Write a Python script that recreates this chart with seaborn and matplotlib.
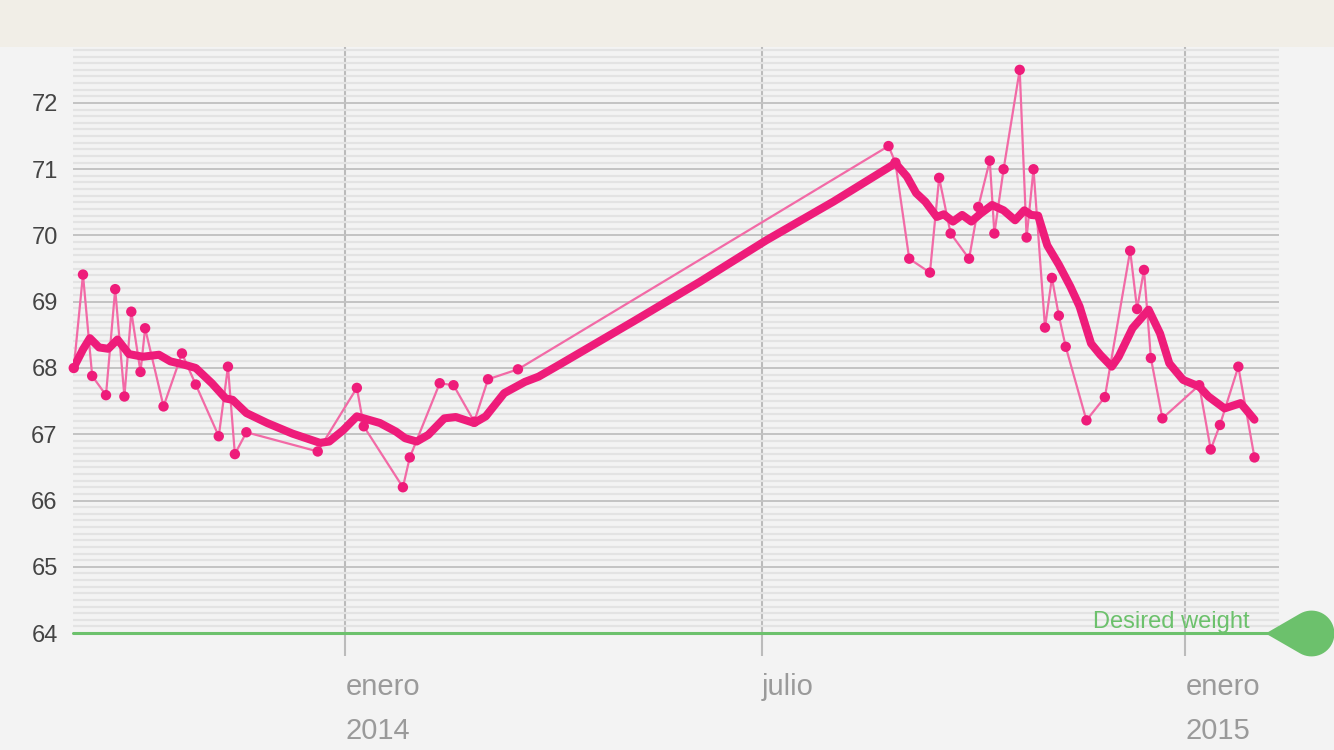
import numpy as np
import pandas as pd
import matplotlib
matplotlib.use("Agg")
import matplotlib.pyplot as plt
from matplotlib.path import Path
from matplotlib.patches import Rectangle
from matplotlib.ticker import FixedLocator, FixedFormatter
import matplotlib.transforms as mtransforms
import seaborn as sns

# weigh-ins
weigh_dates = [
    "2013-09-05", "2013-09-09", "2013-09-13", "2013-09-19", "2013-09-23", "2013-09-27",
    "2013-09-30", "2013-10-04", "2013-10-06", "2013-10-14", "2013-10-22", "2013-10-28",
    "2013-11-07", "2013-11-11", "2013-11-14", "2013-11-19", "2013-12-20", "2014-01-06",
    "2014-01-09", "2014-01-26", "2014-01-29", "2014-02-11", "2014-02-17", "2014-02-26",
    "2014-03-04", "2014-03-17", "2014-08-25", "2014-08-28", "2014-09-03", "2014-09-12",
    "2014-09-16", "2014-09-21", "2014-09-29", "2014-10-03", "2014-10-08", "2014-10-10",
    "2014-10-14", "2014-10-21", "2014-10-24", "2014-10-27", "2014-11-01", "2014-11-04",
    "2014-11-07", "2014-11-10", "2014-11-19", "2014-11-27", "2014-12-08", "2014-12-11",
    "2014-12-14", "2014-12-17", "2014-12-22", "2015-01-07", "2015-01-12", "2015-01-16",
    "2015-01-24", "2015-01-31",
]
weights = [
    68.00, 69.41, 67.88, 67.59, 69.19, 67.57,
    68.85, 67.94, 68.60, 67.42, 68.22, 67.75,
    66.97, 68.02, 66.70, 67.03, 66.74, 67.70,
    67.12, 66.20, 66.65, 67.77, 67.74, 67.19,
    67.83, 67.98, 71.35, 71.10, 69.65, 69.44,
    70.87, 70.03, 69.65, 70.43, 71.13, 70.03,
    71.00, 72.50, 69.97, 71.00, 68.61, 69.36,
    68.79, 68.32, 67.21, 67.56, 69.77, 68.89,
    69.48, 68.15, 67.24, 67.74, 66.77, 67.14,
    68.02, 66.65,
]

# smoothed trend line, also
trend_dates = [
    "2013-09-05", "2013-09-09", "2013-09-12", "2013-09-16", "2013-09-20", "2013-09-24",
    "2013-09-29", "2013-10-05", "2013-10-12", "2013-10-17", "2013-10-23", "2013-10-28",
    "2013-11-04", "2013-11-10", "2013-11-13", "2013-11-19", "2013-11-28", "2013-12-09",
    "2013-12-21", "2013-12-25", "2013-12-31", "2014-01-06", "2014-01-16", "2014-01-23",
    "2014-01-27", "2014-02-01", "2014-02-06", "2014-02-13", "2014-02-18", "2014-02-26",
    "2014-03-03", "2014-03-11", "2014-03-20", "2014-03-26", "2014-04-04", "2014-05-06",
    "2014-06-04", "2014-07-03", "2014-08-01", "2014-08-28", "2014-09-02", "2014-09-06",
    "2014-09-10", "2014-09-15", "2014-09-18", "2014-09-22", "2014-09-26", "2014-09-30",
    "2014-10-04", "2014-10-09", "2014-10-14", "2014-10-19", "2014-10-23", "2014-10-26",
    "2014-10-29", "2014-11-02", "2014-11-07", "2014-11-12", "2014-11-16", "2014-11-21",
    "2014-11-25", "2014-11-30", "2014-12-03", "2014-12-09", "2014-12-16", "2014-12-21",
    "2014-12-25", "2014-12-31", "2015-01-07", "2015-01-11", "2015-01-18", "2015-01-25",
    "2015-01-31",
]
trend_weights = [
    68.01, 68.28, 68.45, 68.31, 68.29, 68.43,
    68.21, 68.17, 68.20, 68.10, 68.05, 68.00,
    67.77, 67.54, 67.52, 67.32, 67.17, 67.01,
    66.87, 66.89, 67.06, 67.27, 67.17, 67.04,
    66.94, 66.89, 66.99, 67.24, 67.26, 67.17,
    67.27, 67.62, 67.79, 67.87, 68.05, 68.70,
    69.30, 69.93, 70.51, 71.09, 70.89, 70.64,
    70.51, 70.28, 70.32, 70.21, 70.31, 70.21,
    70.33, 70.46, 70.38, 70.23, 70.38, 70.31,
    70.30, 69.85, 69.56, 69.23, 68.93, 68.37,
    68.20, 68.02, 68.17, 68.60, 68.88, 68.52,
    68.07, 67.82, 67.72, 67.57, 67.39, 67.47,
    67.22,
]

desired_weight = 64.0
desired_label = "Desired weight"
y_ticks = [64, 65, 66, 67, 68, 69, 70, 71, 72]
x_tick_dates = ["2014-01-01", "2014-07-01", "2015-01-01"]
x_tick_labels = ["enero\n2014", "julio", "enero\n2015"]

raw = pd.DataFrame({"date": pd.to_datetime(weigh_dates), "weight": weights})
trend = pd.DataFrame({"date": pd.to_datetime(trend_dates), "weight": trend_weights})

sns.set_theme(style="white")
plt.rcParams["font.family"] = ["Liberation Sans", "DejaVu Sans"]

PINK = "#ee1c7a"
PINK_LIGHT = "#f26aa6"
GREEN = "#6cc16c"

fig = plt.figure(figsize=(13.34, 7.5), dpi=100, facecolor="#f3f3f3")
# beige header band
fig.add_artist(Rectangle((0, 1 - 47 / 750), 1, 47 / 750, transform=fig.transFigure,
                         facecolor="#f1eee7", edgecolor="none", zorder=0))
ax = fig.add_axes([73 / 1334, 94 / 750, 1206 / 1334, 609 / 750])
ax.set_facecolor("#f3f3f3")

ax.set_xlim(pd.Timestamp("2013-09-04 16:00"), pd.Timestamp("2015-02-10 16:00"))
ax.set_ylim(63.653, 72.845)

# grid
minor = [v / 10 for v in range(641, 729) if v % 10 != 0]
ax.yaxis.set_minor_locator(FixedLocator(minor))
ax.set_yticks(y_ticks)
ax.xaxis.set_major_locator(FixedLocator(matplotlib.dates.date2num(pd.to_datetime(x_tick_dates))))
ax.xaxis.set_major_formatter(FixedFormatter(x_tick_labels))
ax.grid(axis="y", which="minor", color="#e3e3e3", lw=1.6)
ax.grid(axis="y", which="major", color="#c3c3c3", lw=1.4)
ax.grid(axis="x", which="major", color="#bbbbbb", lw=1.5)
ax.set_axisbelow(True)
for s in ax.spines.values():
    s.set_visible(False)

ax.tick_params(axis="both", which="both", length=0)
ax.tick_params(axis="y", pad=11, labelsize=17, labelcolor="#444444")
ax.tick_params(axis="x", pad=12, labelsize=21, labelcolor="#9a9a9a")
for lab in ax.get_xticklabels():
    lab.set_horizontalalignment("left")
    lab.set_linespacing(1.72)
    lab.set_verticalalignment("top")

# desired weight line with teardrop marker
ax.axhline(desired_weight, color=GREEN, lw=2.2, zorder=2, clip_on=False)
theta = np.linspace(np.deg2rad(-120), np.deg2rad(120), 40)
verts = [(-2.0, 0.0)] + [(np.cos(t), np.sin(t)) for t in theta] + [(-2.0, 0.0)]
drop = Path(verts, closed=True)
blend = mtransforms.blended_transform_factory(ax.transAxes, ax.transData)
ax.plot([1.0265], [desired_weight], marker=drop, markersize=66, color=GREEN,
        markeredgewidth=0, transform=blend, clip_on=False, zorder=3)
ax.text(0.976, desired_weight + 0.07, desired_label, transform=blend, ha="right",
        va="baseline", fontsize=17, color=GREEN)

# series
sns.lineplot(data=raw, x="date", y="weight", ax=ax, color=PINK_LIGHT, lw=1.6,
             zorder=4, sort=False)
sns.lineplot(data=trend, x="date", y="weight", ax=ax, color=PINK, lw=5.8,
             zorder=5, solid_capstyle="round", solid_joinstyle="round", sort=False)
sns.scatterplot(data=raw, x="date", y="weight", ax=ax, color=PINK, s=56,
                edgecolor="none", zorder=6, clip_on=False)
ax.set_xlabel("")
ax.set_ylabel("")

fig.savefig("out.png", dpi=100, facecolor=fig.get_facecolor())
